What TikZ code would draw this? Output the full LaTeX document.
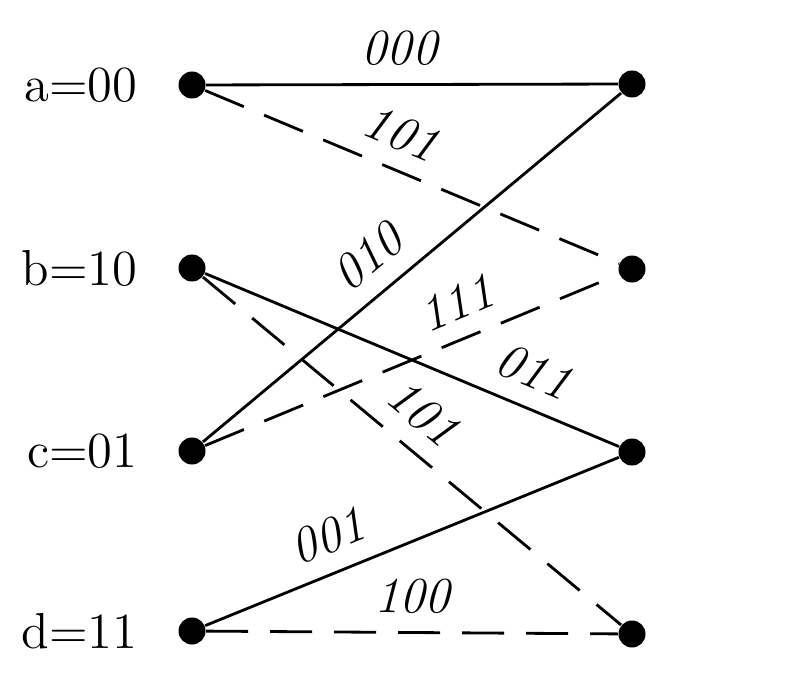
\documentclass[tikz,border=0pt]{standalone}
\usepackage{amsmath}
\usepackage{tikz}
\usetikzlibrary{
	arrows.meta,
	calc,
	positioning
}

\tikzset{
	state/.style={circle, fill=black, inner sep=0pt, minimum width=0.24cm, minimum height=0.27cm},
	branch/.style={thick, black},
	dashbranch/.style={thick, black, dash pattern=on 0.42cm off 0.22cm},
	bits/.style={font=\Large\itshape, sloped, above, inner sep=5pt}
}

\begin{document}
\begin{tikzpicture}
		\useasboundingbox (0,0) rectangle (8,6.78);
		% states at time k
		\node[state] (a) at (1.92,5.93) {};
		\node[state] (b) at (1.92,4.10) {};
		\node[state] (c) at (1.92,2.27) {};
		\node[state] (d) at (1.92,0.47) {};
		% states at time k+1
		\node[state] (a1) at (6.32,5.94) {};
		\node[state] (b1) at (6.32,4.09) {};
		\node[state] (c1) at (6.32,2.26) {};
		\node[state] (d1) at (6.32,0.44) {};
		% state names
		\node[left=0.28cm of a, font=\Large] {a=00};
		\node[left=0.28cm of b, font=\Large] {b=10};
		\node[left=0.28cm of c, font=\Large] {c=01};
		\node[left=0.28cm of d, font=\Large] {d=11};
		% branches
		\draw[branch] (a) -- node[bits, pos=0.47] {000} (a1);
		\draw[dashbranch] (a) -- node[bits, pos=0.44] {101} (b1);
		\draw[branch] (c) -- node[bits, pos=0.45] {010} (a1);
		\draw[dashbranch] (c) -- node[bits, pos=0.64] {111} (b1);
		\draw[branch] (b) -- node[bits, pos=0.76] {011} (c1);
		\draw[dashbranch] (b) -- node[bits, pos=0.47] {101} (d1);
		\draw[branch] (d) -- node[bits, pos=0.33] {001} (c1);
		\draw[dashbranch] (d) -- node[bits, pos=0.5] {100} (d1);
	\end{tikzpicture}
\end{document}
